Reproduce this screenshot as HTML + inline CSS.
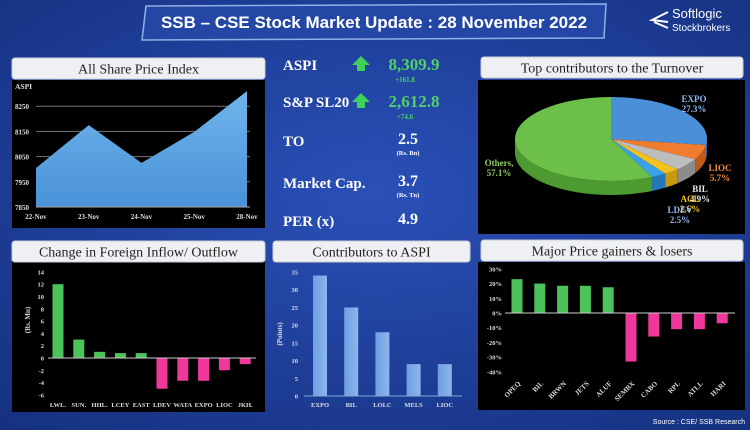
<!DOCTYPE html>
<html><head><meta charset="utf-8">
<style>
html,body{margin:0;padding:0;width:750px;height:430px;overflow:hidden;background:#1e3c9c;}
svg{display:block;font-family:"Liberation Serif",serif;}
</style></head>
<body>
<svg id="root" width="750" height="430" viewBox="0 0 750 430" xmlns="http://www.w3.org/2000/svg">
<defs>
<radialGradient id="bg" cx="50%" cy="45%" r="75%">
<stop offset="0" stop-color="#2a50b8"/><stop offset="1" stop-color="#15307e"/>
</radialGradient>
<linearGradient id="area" x1="0" y1="0" x2="0" y2="1"><stop offset="0" stop-color="#6fb4ec"/><stop offset="1" stop-color="#4a92d8"/></linearGradient>
<linearGradient id="cbar" x1="0" y1="0" x2="1" y2="0"><stop offset="0" stop-color="#6f9ee0"/><stop offset="1" stop-color="#8cb6ee"/></linearGradient>
</defs>
<rect x="0" y="0" width="750" height="430" fill="url(#bg)"/>
<g>
<polygon points="146,6 606,4 604,38 142,40" fill="#2447a6" stroke="#8fb0e6" stroke-width="1.5"/>
<text x="374" y="28" text-anchor="middle" font-family="Liberation Sans, sans-serif" font-weight="bold" font-size="17" fill="#fff">SSB – CSE Stock Market Update : 28 November 2022</text>
</g>
<g>
<path d="M668 12 L652 20 L668 22 M654 22 L668 28" stroke="#fff" stroke-width="2" fill="none"/>
<text x="672" y="18" font-family="Liberation Sans, sans-serif" font-size="13" fill="#fff">Softlogic</text>
<text x="672" y="31" font-family="Liberation Sans, sans-serif" font-size="10" fill="#fff">Stockbrokers</text>
</g>

<rect x="12" y="80" width="253" height="148" fill="#000"/>
<rect x="478" y="80" width="267" height="154" fill="#000"/>
<rect x="12" y="262" width="253" height="150" fill="#000"/>
<rect x="478" y="262" width="267" height="148" fill="#000"/>

<g id="headers"></g>
<g id="aspi"></g>
<g id="stats"></g>
<g id="pie"></g>
<g id="foreign"></g>
<g id="contrib"></g>
<g id="gainers"></g>
<text x="745" y="424" text-anchor="end" font-family="Liberation Sans, sans-serif" font-size="7" fill="#fff">Source : CSE/ SSB Research</text>
</svg>
<script>
const aspiDates = ["22-Nov","23-Nov","24-Nov","25-Nov","28-Nov"];
const aspiValues = [8005, 8175, 8025, 8148, 8310];
const aspiTicks = [7850, 7950, 8050, 8150, 8250];
const pieLabels = ["EXPO","LIOC","BIL","ACL","LDEV","Others"];
const pieValues = [27.3, 5.7, 4.9, 2.6, 2.5, 57.1];
const flowCats = ["LWL.","SUN.","HHL.","LCEY","EAST","LDEV","WATA","EXPO","LIOC","JKH."];
const flowValues = [12, 3, 1, 0.8, 0.8, -5, -3.7, -3.7, -2, -1];
const flowTicks = [-6,-4,-2,0,2,4,6,8,10,12,14];
const contribCats = ["EXPO","BIL","LOLC","MELS","LIOC"];
const contribValues = [34, 25, 18, 9, 9];
const contribTicks = [0,5,10,15,20,25,30,35];
const glCats = ["OPEQ","BIL","BRWN","JETS","ALUF","SEMBX","CABO","RPL","ATLL","HARI"];
const glValues = [23, 20, 18.5, 18.5, 17.5, -33, -16, -11, -11, -7];
const glTicks = [-40,-30,-20,-10,0,10,20,30];

const NS="http://www.w3.org/2000/svg";
function mk(parent, tag, attrs, text){const e=document.createElementNS(NS,tag);for(const k in attrs)e.setAttribute(k,attrs[k]);if(text!==undefined)e.textContent=text;parent.appendChild(e);return e;}

const H=document.getElementById('headers');
[[12,58,253,"All Share Price Index","header-aspi"],[481,57,262,"Top contributors to the Turnover","header-turnover"],[12,241,253,"Change in Foreign Inflow/ Outflow","header-foreign"],[273,241,197,"Contributors to ASPI","header-contrib"],[481,240,262,"Major Price gainers & losers","header-gainers"]].forEach(h=>{
 const g=mk(H,'g',{});
 
 
 mk(g,'rect',{x:h[0],y:h[1],width:h[2],height:21,rx:3,fill:"#eef0f3",stroke:"#c8ccd4"});
 mk(g,'text',{x:h[0]+h[2]/2,y:h[1]+15.5,'text-anchor':'middle','font-size':14,fill:'#222'},h[3]);
});

(function(){
 const G=document.getElementById('aspi');
 const x0=36,x1=247;
 const xs=i=>x0+i*(x1-x0)/(aspiDates.length-1);
 const ys=v=>207-(v-7850)*0.252;
 aspiTicks.forEach(t=>{
  if(t>7850){mk(G,'line',{x1:36,x2:250,y1:ys(t),y2:ys(t),stroke:'#777','stroke-width':1});}
  const tx=mk(G,'text',{x:15,y:ys(t)+3,'font-size':7,'font-weight':'bold',fill:'#ddd'},t);
  
  
 });
 let d=`M${xs(0)},${ys(7850)}`;
 aspiValues.forEach((v,i)=>d+=` L${xs(i)},${ys(v)}`);
 d+=` L${xs(aspiValues.length-1)},${ys(7850)} Z`;
 const a=mk(G,'path',{d:d,fill:'url(#area)'});
 
 
 mk(G,'line',{x1:36,x2:250,y1:ys(7850),y2:ys(7850),stroke:'#aaa'});
 aspiDates.forEach((s,i)=>{
  const t=mk(G,'text',{x:xs(i),y:219,'text-anchor':'middle','font-size':7,'font-weight':'bold',fill:'#ddd'},s);
  
  
 });
 const lbl=mk(G,'text',{x:15,y:89,'font-size':7.5,'font-weight':'bold',fill:'#ddd'},'ASPI');
 
 
})();

(function(){
 const G=document.getElementById('stats');
 const rows=[["ASPI",70,"8,309.9","+161.8",true],["S&P SL20",107,"2,612.8","+74.6",true],["TO",146,"2.5","(Rs. Bn)",false],["Market Cap.",188,"3.7","(Rs. Tn)",false],["PER (x)",226,"4.9","",false]];
 rows.forEach(r=>{
  const g=mk(G,'g',{});
  
  
  mk(g,'text',{x:283,y:r[1],'font-size':15,'font-weight':'bold',fill:'#fff'},r[0]);
  if(r[4]){
   mk(g,'polygon',{points:`${361},${r[1]-14} ${370},${r[1]-5} ${365},${r[1]-5} ${365},${r[1]+1} ${357},${r[1]+1} ${357},${r[1]-5} ${352},${r[1]-5}`,fill:'#3fcf5a'});
   mk(g,'text',{x:414,y:r[1],'text-anchor':'middle','font-size':17,'font-weight':'bold',fill:'#4fd06a'},r[2]);
   mk(g,'text',{x:405,y:r[1]+12,'text-anchor':'middle','font-size':7,'font-weight':'bold',fill:'#4fd06a'},r[3]);
  } else {
   mk(g,'text',{x:408,y:r[1]-2,'text-anchor':'middle','font-size':16,'font-weight':'bold',fill:'#fff'},r[2]);
   if(r[3]) mk(g,'text',{x:408,y:r[1]+9,'text-anchor':'middle','font-size':6.5,'font-weight':'bold',fill:'#fff'},r[3]);
  }
 });
})();

(function(){
 const G=document.getElementById('pie');
 const cx=611,cy=139,rx=96,ry=42,dep=14;
 const cols=["#4a8fd8","#f07c30","#bdbdbd","#f5c21b","#3aa0e8","#6cc04a"];
 const dark=["#2e6bb0","#c05a18","#8c8c8c","#c89a10","#2278b8","#4c9a30"];
 const tot=pieValues.reduce((a,b)=>a+b,0);
 let ang=-Math.PI/2;
 const segs=pieValues.map((v,i)=>{const a0=ang;ang+=v/tot*2*Math.PI;return [a0,ang,i];});
 const P=(a)=>[cx+rx*Math.cos(a),cy+ry*Math.sin(a)];
 segs.forEach(([a0,a1,i])=>{
  const parts=[[Math.max(a0,0),Math.min(a1,Math.PI)]];
  if(a1>2*Math.PI) parts.push([Math.max(a0-2*Math.PI,0),Math.min(a1-2*Math.PI,Math.PI)]);
  parts.forEach(([ss,ee])=>{
   if(ee<=ss) return;
   const p0=P(ss),p1=P(ee);
   const d=`M${p0[0]},${p0[1]} A${rx},${ry} 0 0 1 ${p1[0]},${p1[1]} L${p1[0]},${p1[1]+dep} A${rx},${ry} 0 0 0 ${p0[0]},${p0[1]+dep} Z`;
   const el=mk(G,'path',{d:d,fill:dark[i]});
   
   
  });
 });
 segs.forEach(([a0,a1,i])=>{
  const p0=P(a0),p1=P(a1);
  const large=(a1-a0)>Math.PI?1:0;
  const el=mk(G,'path',{d:`M${cx},${cy} L${p0[0]},${p0[1]} A${rx},${ry} 0 ${large} 1 ${p1[0]},${p1[1]} Z`,fill:cols[i]});
  
  
 });
 const lab=[[694,102,"#8fb8f0"],[720,171,"#f08a40"],[700,192,"#e8e8e8"],[690,202,"#f5c21b"],[680,213,"#8fb8f0"],[499,166,"#8fd060"]];
 pieLabels.forEach((n,i)=>{
  const [x,y,c]=lab[i];
  const t=mk(G,'text',{x:x,y:y,'text-anchor':'middle','font-size':9,'font-weight':'bold',fill:c});
  
  
  mk(t,'tspan',{x:x,dy:0},n+(i==5?",":""));
  mk(t,'tspan',{x:x,dy:10},pieValues[i].toFixed(1)+"%");
 });
})();

function bars(G,cats,vals,ticks,opt){
 const ys=v=>opt.zeroY-v*opt.scale;
 ticks.forEach(t=>{
  const tx=mk(G,'text',{x:opt.tickX,y:ys(t)+2.5,'text-anchor':'end','font-size':6.5,'font-weight':'bold',fill:opt.tickCol},t+(opt.pct?'%':''));
  
  
 });
 cats.forEach((c,i)=>{
  const cx=opt.x0+i*opt.step, v=vals[i];
  const y=Math.min(ys(v),opt.zeroY), h=Math.abs(v*opt.scale);
  const r=mk(G,'rect',{x:cx-opt.bw/2,y:y,width:opt.bw,height:h,fill:opt.col?opt.col(v):'url(#cbar)'});
  
  
  let t;
  if(opt.rot){
   t=mk(G,'text',{x:cx+4,y:opt.labY,'text-anchor':'end','font-size':7,'font-weight':'bold',fill:'#ddd',transform:`rotate(-45 ${cx+4} ${opt.labY})`},c);
  } else {
   t=mk(G,'text',{x:cx,y:opt.labY,'text-anchor':'middle','font-size':6.5,'font-weight':'bold',fill:'#ddd'},c);
  }
  
  
 });
 mk(G,'line',{x1:opt.axX0,x2:opt.axX1,y1:opt.zeroY,y2:opt.zeroY,stroke:opt.axCol||'#ccc','stroke-width':1});
}
const gc=v=>v>=0?'#4cc25a':'#f0389c';
bars(document.getElementById('foreign'),flowCats,flowValues,flowTicks,{zeroY:358,scale:6.15,tickX:44,tickCol:'#ddd',x0:58,step:20.8,bw:11,labY:407,prefix:'flow',col:gc,axX0:48,axX1:256});
bars(document.getElementById('contrib'),contribCats,contribValues,contribTicks,{zeroY:396,scale:124/35,tickX:298,tickCol:'#ddd',x0:320,step:31.2,bw:14,labY:407,prefix:'contrib',axX0:304,axX1:462,axCol:'#8aa6e0'});
bars(document.getElementById('gainers'),glCats,glValues,glTicks,{zeroY:313,scale:103/70,tickX:502,tickCol:'#ddd',x0:517,step:22.8,bw:11,labY:384,prefix:'gl',col:gc,rot:true,pct:true,axX0:505,axX1:735});

(function(){
 const a=mk(document.getElementById('foreign'),'text',{x:30,y:320,'text-anchor':'middle','font-size':7,'font-weight':'bold',fill:'#ddd',transform:'rotate(-90 30 320)'},'(Rs. Mn)');
 
 
 const b=mk(document.getElementById('contrib'),'text',{x:282,y:334,'text-anchor':'middle','font-size':7,'font-weight':'bold',fill:'#ddd',transform:'rotate(-90 282 334)'},'(Points)');
 
 
})();
</script>
</body></html>
